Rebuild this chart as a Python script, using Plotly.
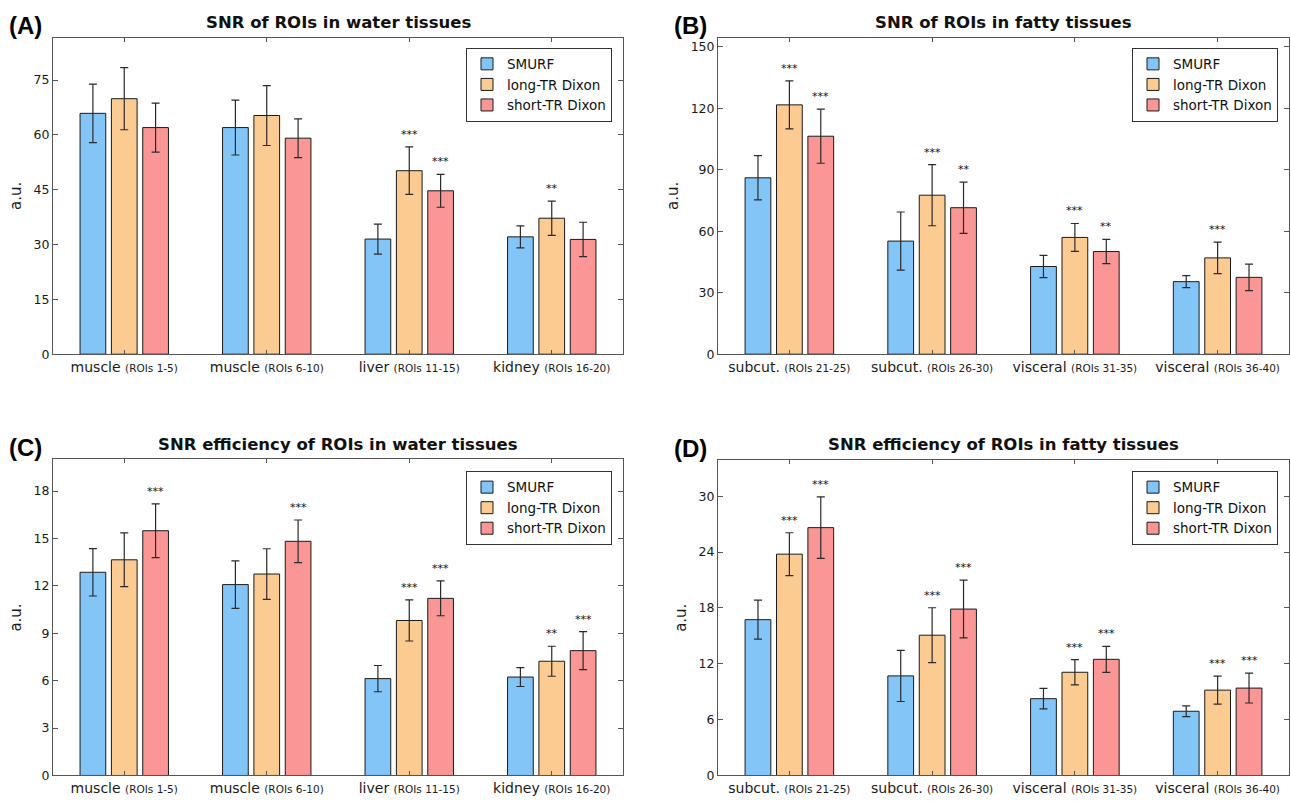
import plotly.graph_objects as go

# ---------------- data ----------------
series_names = ["SMURF", "long-TR Dixon", "short-TR Dixon"]
series_colors = ["#84C5F8", "#FCCB92", "#FA9695"]

water_ticks = ["muscle", "muscle", "liver", "kidney"]
water_rois = ["(ROIs 1-5)", "(ROIs 6-10)", "(ROIs 11-15)", "(ROIs 16-20)"]
fat_ticks = ["subcut.", "subcut.", "visceral", "visceral"]
fat_rois = ["(ROIs 21-25)", "(ROIs 26-30)", "(ROIs 31-35)", "(ROIs 36-40)"]

# (A) SNR water
snr_water_smurf = [65.9, 62.0, 31.5, 32.1]
snr_water_smurf_sd = [8.0, 7.5, 4.1, 3.0]
snr_water_long = [69.9, 65.3, 50.2, 37.2]
snr_water_long_sd = [8.5, 8.2, 6.5, 4.7]
snr_water_short = [62.0, 59.1, 44.7, 31.4]
snr_water_short_sd = [6.7, 5.3, 4.5, 4.7]
snr_water_long_sig = ["", "", "***", "**"]
snr_water_short_sig = ["", "", "***", ""]

# (B) SNR fat
snr_fat_smurf = [86.1, 55.2, 42.8, 35.4]
snr_fat_smurf_sd = [10.8, 14.2, 5.4, 2.9]
snr_fat_long = [121.7, 77.6, 57.0, 47.0]
snr_fat_long_sd = [11.7, 14.9, 6.8, 7.7]
snr_fat_short = [106.4, 71.5, 50.1, 37.5]
snr_fat_short_sd = [13.2, 12.5, 5.9, 6.5]
snr_fat_long_sig = ["***", "***", "***", "***"]
snr_fat_short_sig = ["***", "**", "**", ""]

# (C) SNR efficiency water
eff_water_smurf = [12.86, 12.08, 6.13, 6.23]
eff_water_smurf_sd = [1.5, 1.5, 0.83, 0.6]
eff_water_long = [13.65, 12.75, 9.81, 7.23]
eff_water_long_sd = [1.7, 1.6, 1.3, 0.95]
eff_water_short = [15.49, 14.82, 11.21, 7.90]
eff_water_short_sd = [1.7, 1.35, 1.1, 1.2]
eff_water_long_sig = ["", "", "***", "**"]
eff_water_short_sig = ["***", "***", "***", "***"]

# (D) SNR efficiency fat
eff_fat_smurf = [16.74, 10.70, 8.25, 6.90]
eff_fat_smurf_sd = [2.1, 2.75, 1.1, 0.57]
eff_fat_long = [23.78, 15.07, 11.09, 9.17]
eff_fat_long_sd = [2.3, 2.95, 1.35, 1.5]
eff_fat_short = [26.63, 17.88, 12.48, 9.39]
eff_fat_short_sd = [3.3, 3.1, 1.4, 1.6]
eff_fat_long_sig = ["***", "***", "***", "***"]
eff_fat_short_sig = ["***", "***", "***", "***"]

# ---------------- layout settings ----------------
W, H = 1291, 803
FONT = "DejaVu Sans"
BARGAP = 0.34
BARGROUPGAP = 0.18
AXCOL = "#555555"

def px_x(p):
    return p / W

def px_y(p):
    return 1 - p / H

panels = [
    dict(label="(A)", title="SNR of ROIs in water tissues",
         ticks=water_ticks, rois=water_rois,
         vals=[snr_water_smurf, snr_water_long, snr_water_short],
         sds=[snr_water_smurf_sd, snr_water_long_sd, snr_water_short_sd],
         sig=[None, snr_water_long_sig, snr_water_short_sig],
         ymax=86.6, dtick=15, x0=53, x1=623, y0=38, y1=357.3,
         leg_right=612, leg_top=48),
    dict(label="(B)", title="SNR of ROIs in fatty tissues",
         ticks=fat_ticks, rois=fat_rois,
         vals=[snr_fat_smurf, snr_fat_long, snr_fat_short],
         sds=[snr_fat_smurf_sd, snr_fat_long_sd, snr_fat_short_sd],
         sig=[None, snr_fat_long_sig, snr_fat_short_sig],
         ymax=154.5, dtick=30, x0=718, x1=1289, y0=38, y1=357.3,
         leg_right=1278, leg_top=48),
    dict(label="(C)", title="SNR efficiency of ROIs in water tissues",
         ticks=water_ticks, rois=water_rois,
         vals=[eff_water_smurf, eff_water_long, eff_water_short],
         sds=[eff_water_smurf_sd, eff_water_long_sd, eff_water_short_sd],
         sig=[None, eff_water_long_sig, eff_water_short_sig],
         ymax=20.0, dtick=3, x0=53, x1=623, y0=463.5, y1=782.3,
         leg_right=612, leg_top=475),
    dict(label="(D)", title="SNR efficiency of ROIs in fatty tissues",
         ticks=fat_ticks, rois=fat_rois,
         vals=[eff_fat_smurf, eff_fat_long, eff_fat_short],
         sds=[eff_fat_smurf_sd, eff_fat_long_sd, eff_fat_short_sd],
         sig=[None, eff_fat_long_sig, eff_fat_short_sig],
         ymax=33.9, dtick=6, x0=718, x1=1289, y0=464, y1=782.3,
         leg_right=1278, leg_top=475),
]

fig = go.Figure()
annotations = []
layout = {}
positions = [1, 2, 3, 4]
slot = (1 - BARGAP) / 3

for i, p in enumerate(panels):
    n = i + 1
    xa = "x" if n == 1 else f"x{n}"
    ya = "y" if n == 1 else f"y{n}"
    legname = "legend" if n == 1 else f"legend{n}"
    for k in range(3):
        fig.add_trace(go.Bar(
            x=positions, y=p["vals"][k], name=series_names[k],
            marker=dict(color=series_colors[k], line=dict(color="#1a1a1a", width=1)),
            error_y=dict(type="data", array=p["sds"][k], color="#2a2a2a",
                         thickness=1.2, width=4),
            xaxis=xa, yaxis=ya, legend=legname, showlegend=True,
            hoverinfo="skip",
        ))
        sig = p["sig"][k]
        if sig:
            for j, s in enumerate(sig):
                if s:
                    annotations.append(dict(
                        x=positions[j] + (k - 1) * slot,
                        y=p["vals"][k][j] + p["sds"][k][j],
                        xref=xa, yref=ya, text=s, showarrow=False,
                        yanchor="bottom", yshift=4,
                        font=dict(family=FONT, size=11, color="#111")))
    ticktext = [f"{t} <span style='font-size:10.5px'>{r}</span>"
                for t, r in zip(p["ticks"], p["rois"])]
    xkey = "xaxis" if n == 1 else f"xaxis{n}"
    ykey = "yaxis" if n == 1 else f"yaxis{n}"
    layout[xkey] = dict(
        domain=[px_x(p["x0"]), px_x(p["x1"])], anchor=ya,
        range=[0.5, 4.5], tickvals=positions, ticktext=ticktext,
        showline=True, linecolor=AXCOL, linewidth=1, mirror="ticks",
        ticks="inside", ticklen=4, tickcolor=AXCOL, showgrid=False,
        zeroline=False, tickfont=dict(family=FONT, size=14, color="#1a1a1a"),
    )
    tickvals_y = []
    v = 0
    while v <= p["ymax"]:
        tickvals_y.append(v)
        v += p["dtick"]
    layout[ykey] = dict(
        domain=[px_y(p["y1"]), px_y(p["y0"])], anchor=xa,
        range=[0, p["ymax"]], tickvals=tickvals_y,
        showline=True, linecolor=AXCOL, linewidth=1, mirror="ticks",
        ticks="inside", ticklen=5, tickcolor=AXCOL, showgrid=False,
        zeroline=False, tickfont=dict(family=FONT, size=12.5, color="#1a1a1a"),
        title=dict(text="a.u.", font=dict(family=FONT, size=15, color="#1a1a1a"),
                   standoff=8),
    )
    layout[legname] = dict(
        x=px_x(p["leg_right"]), y=px_y(p["leg_top"]), xanchor="right", yanchor="top",
        xref="paper", yref="paper",
        bgcolor="white", bordercolor="#333333", borderwidth=1,
        font=dict(family=FONT, size=13.5, color="#111"),
        tracegroupgap=0, itemwidth=30,
    )
    # panel title
    annotations.append(dict(
        x=px_x((p["x0"] + p["x1"]) / 2), y=px_y(p["y0"] - 15.5),
        xref="paper", yref="paper", text=f"<b>{p['title']}</b>", showarrow=False,
        xanchor="center", yanchor="middle",
        font=dict(family=FONT, size=16.5, color="#111")))
    # panel label
    annotations.append(dict(
        x=px_x(p["x0"] - 46), y=px_y(p["y0"] - 12),
        xref="paper", yref="paper", text=f"<b>{p['label']}</b>", showarrow=False,
        xanchor="left", yanchor="middle",
        font=dict(family="Liberation Sans", size=24, color="#000")))

fig.update_layout(
    width=W, height=H,
    margin=dict(l=0, r=0, t=0, b=0),
    paper_bgcolor="white", plot_bgcolor="white",
    barmode="group", bargap=BARGAP, bargroupgap=BARGROUPGAP,
    annotations=annotations,
    font=dict(family=FONT),
    **layout,
)

fig.write_html("out.html",
               config={"displayModeBar": False},
               post_script="document.body.style.margin='0';document.body.style.overflow='hidden';")
